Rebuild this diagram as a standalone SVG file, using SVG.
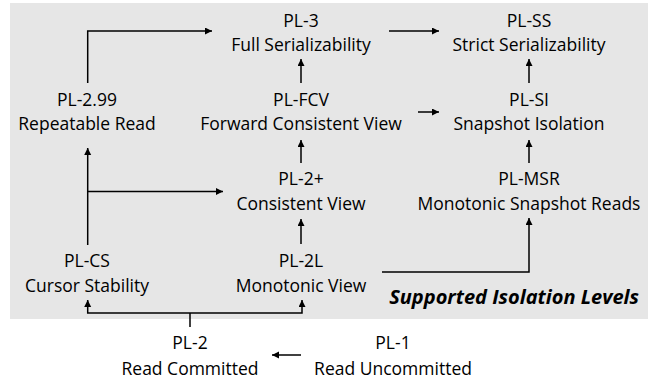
<svg xmlns="http://www.w3.org/2000/svg" width="657" height="381" viewBox="0 0 657 381">
<style>
.t{font-family:"Open Sans","Noto Sans",sans-serif;font-size:17.5px;fill:#000;text-anchor:middle}
.c{fill:none;stroke:#000;stroke-width:1.5}
.lbl{font-family:"Open Sans","Noto Sans",sans-serif;font-size:20px;font-weight:bold;font-style:italic;fill:#000;text-anchor:end}
</style>
<defs>
<marker id="ah" markerUnits="userSpaceOnUse" markerWidth="8" markerHeight="8" refX="7" refY="3.5" orient="auto">
<path d="M0,0 L7,3.5 L0,7 z" fill="#000"/>
</marker>
</defs>
<rect id="region" x="10" y="3" width="638" height="316" fill="#e6e6e6"/>
<text class="lbl" x="639" y="304">Supported Isolation Levels</text>
<g id="connectors">
<path class="c" d="M87.7,83 V31 H212" marker-end="url(#ah)"/>
<path class="c" d="M389,31 H439" marker-end="url(#ah)"/>
<path class="c" d="M301,83 V59" marker-end="url(#ah)"/>
<path class="c" d="M529,83 V59" marker-end="url(#ah)"/>
<path class="c" d="M418,112 H439" marker-end="url(#ah)"/>
<path class="c" d="M301,163 V140" marker-end="url(#ah)"/>
<path class="c" d="M529,163 V140" marker-end="url(#ah)"/>
<path class="c" d="M87.7,245 V148" marker-end="url(#ah)"/>
<path class="c" d="M87.7,191.5 H223" marker-end="url(#ah)"/>
<path class="c" d="M301,244 V219" marker-end="url(#ah)"/>
<path class="c" d="M382,272 H529 V218" marker-end="url(#ah)"/>
<path class="c" d="M190,327 V313"/>
<path class="c" d="M190,313 H87.7 V300" marker-end="url(#ah)"/>
<path class="c" d="M190,313 H302 V300" marker-end="url(#ah)"/>
<path class="c" d="M301,355 H272" marker-end="url(#ah)"/>
</g>
<g id="pl3"><text class="t" x="301" y="27">PL-3</text><text class="t" x="301" y="51">Full Serializability</text></g>
<g id="plss"><text class="t" x="529" y="27">PL-SS</text><text class="t" x="529" y="51">Strict Serializability</text></g>
<g id="pl299"><text class="t" x="87" y="106">PL-2.99</text><text class="t" x="87" y="130">Repeatable Read</text></g>
<g id="plfcv"><text class="t" x="301" y="106">PL-FCV</text><text class="t" x="301" y="130">Forward Consistent View</text></g>
<g id="plsi"><text class="t" x="529" y="106">PL-SI</text><text class="t" x="529" y="130">Snapshot Isolation</text></g>
<g id="pl2plus"><text class="t" x="301" y="185">PL-2+</text><text class="t" x="301" y="210">Consistent View</text></g>
<g id="plmsr"><text class="t" x="529" y="185">PL-MSR</text><text class="t" x="529" y="210">Monotonic Snapshot Reads</text></g>
<g id="plcs"><text class="t" x="87" y="267">PL-CS</text><text class="t" x="87" y="292">Cursor Stability</text></g>
<g id="pl2l"><text class="t" x="301" y="267">PL-2L</text><text class="t" x="301" y="292">Monotonic View</text></g>
<g id="pl2"><text class="t" x="190" y="349">PL-2</text><text class="t" x="190" y="375">Read Committed</text></g>
<g id="pl1"><text class="t" x="393" y="349">PL-1</text><text class="t" x="393" y="375">Read Uncommitted</text></g>
</svg>
